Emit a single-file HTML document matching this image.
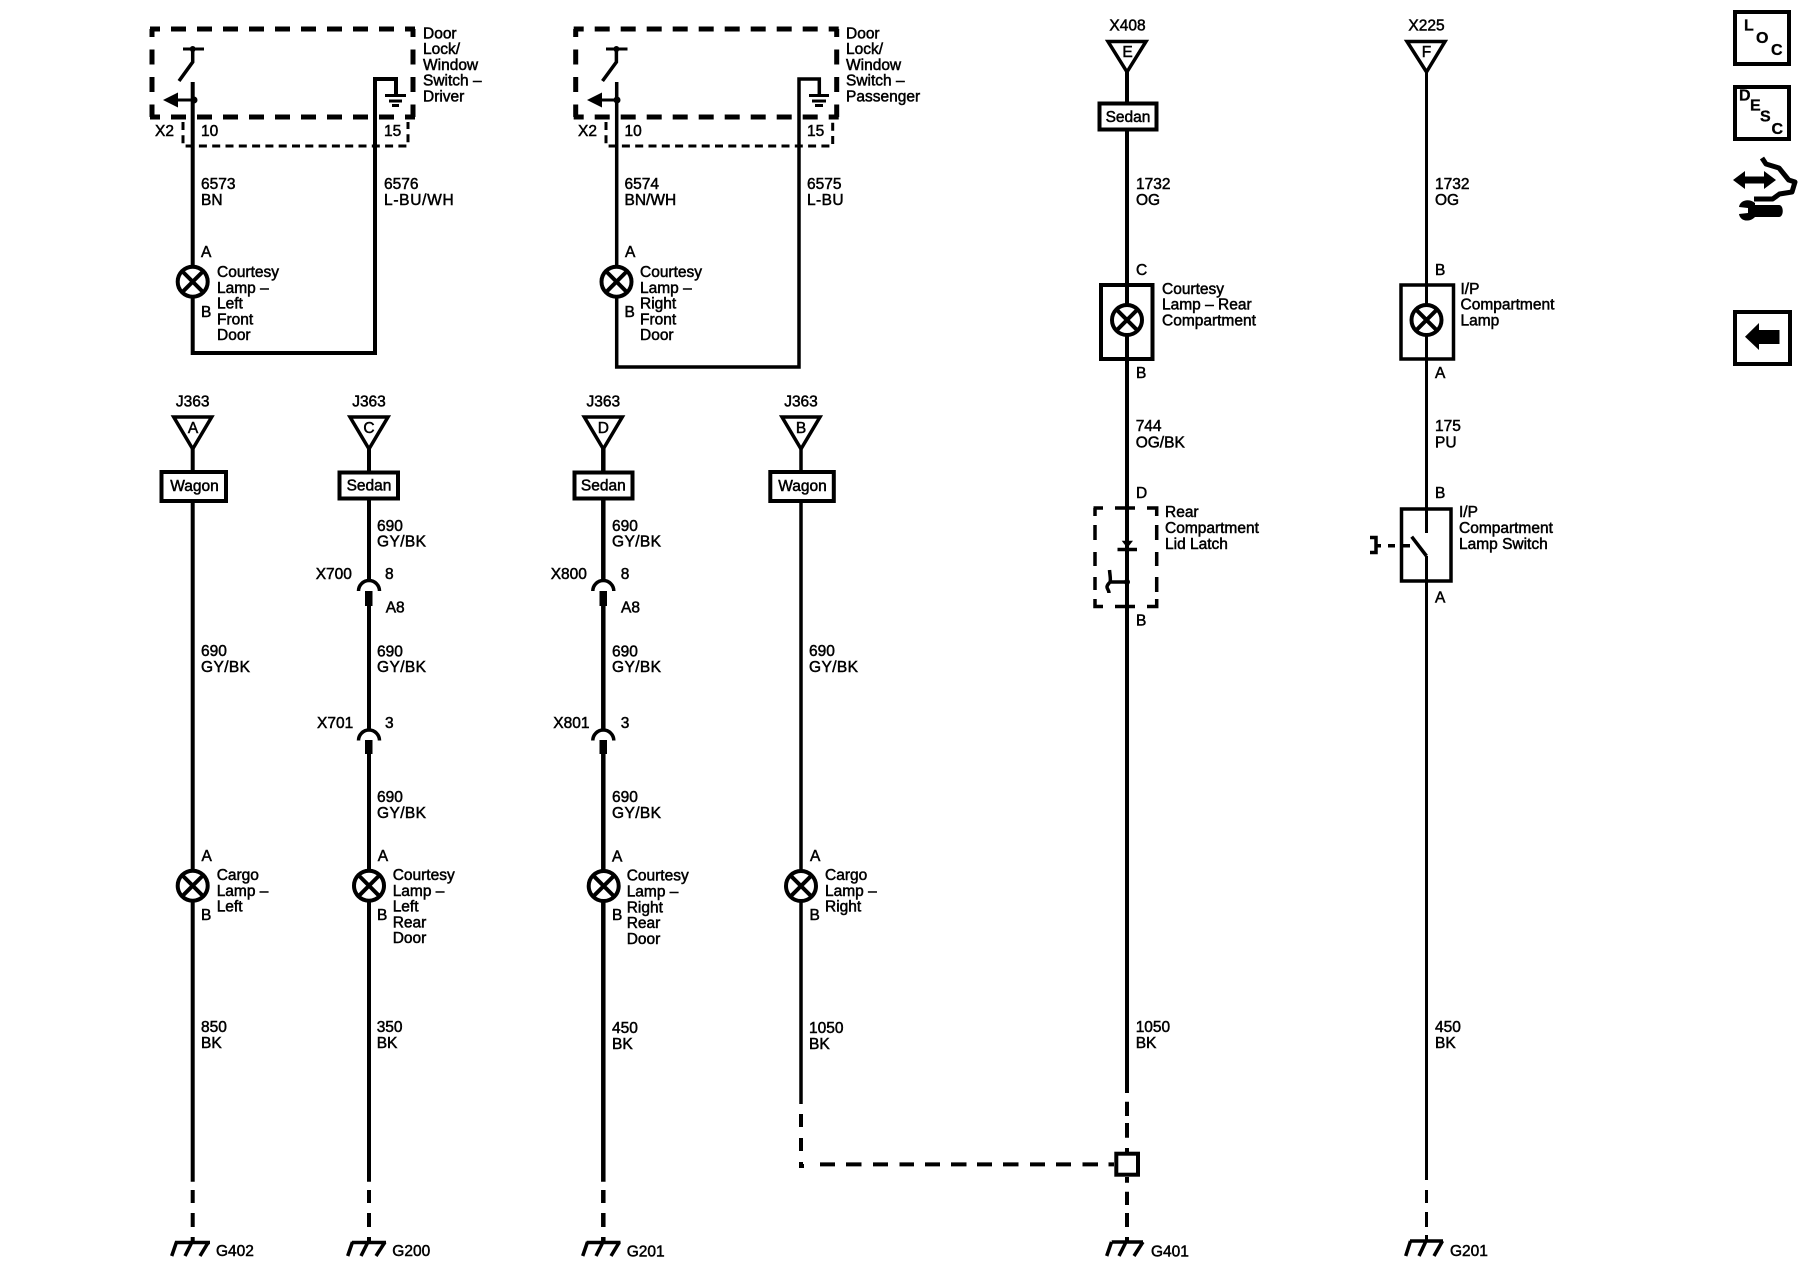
<!DOCTYPE html>
<html><head><meta charset="utf-8"><title>Courtesy Lamps Schematic</title>
<style>
html,body{margin:0;padding:0;background:#fff}
svg{display:block}
text{font-family:"Liberation Sans",sans-serif;font-size:15.5px;fill:#000;stroke:#000;stroke-width:.5px}
.m{text-anchor:middle}
.b{font-weight:bold;font-size:16px;stroke-width:.3px}
.c{letter-spacing:.4px}
path,line,rect,circle,polygon,polyline{stroke:#000;fill:none}
.w{stroke-width:4}
.n{stroke-width:3}
.t{stroke-width:4;fill:#fff}
.v{stroke-width:3.5;fill:#fff}
.f{fill:#000;stroke:none}
.l{fill:#fff;stroke-width:4}
.x{stroke-width:3.5}
.g{stroke-width:3.5}
</style></head><body>
<svg xmlns="http://www.w3.org/2000/svg" width="1800" height="1280" viewBox="0 0 1800 1280">
<rect x="0" y="0" width="1800" height="1280" style="fill:#fff;stroke:none"/>

<!-- Group 1 -->
<g>
<path d="M150 29H415M150 117H415" stroke-width="5" stroke-dasharray="15 11" stroke-dashoffset="5"/>
<path d="M152 29V117M413 29V117" stroke-width="5" stroke-dasharray="15 12.5" stroke-dashoffset="7"/>
<path d="M183 122V146H408V122" stroke-width="3" stroke-dasharray="8 5.3"/>
<path class="w" d="M192.7 82V353H375V79H396V95"/>
<path class="n" d="M183 49H204"/>
<path class="x" d="M192.7 49V62L179 81"/>
<circle class="f" cx="192.7" cy="49" r="3"/>
<circle class="f" cx="194" cy="100" r="3.5"/>
<path class="n" d="M175 100H194"/>
<polygon class="f" points="163,100 178,92.5 178,107.5"/>
<path class="n" d="M385 95.5H406M389 101H402M392 105.5H399"/>
<circle class="l" cx="192.7" cy="281.7" r="15"/>
<path class="w" d="M182 271L203.4 292.4M203.4 271L182 292.4"/>
<text x="423" y="38.3">Door<tspan x="423" dy="15.8">Lock/</tspan><tspan x="423" dy="15.8">Window</tspan><tspan x="423" dy="15.8">Switch –</tspan><tspan x="423" dy="15.8">Driver</tspan></text>
<text x="155" y="136">X2</text><text x="201" y="136">10</text><text x="384" y="136">15</text>
<text x="201" y="189">6573</text><text x="201" y="205">BN</text>
<text x="384" y="189">6576</text><text x="384" y="205" style="letter-spacing:.7px">L-BU/WH</text>
<text x="201" y="257">A</text><text x="201" y="317">B</text>
<text x="217" y="277">Courtesy<tspan x="217" dy="15.8">Lamp –</tspan><tspan x="217" dy="15.8">Left</tspan><tspan x="217" dy="15.8">Front</tspan><tspan x="217" dy="15.8">Door</tspan></text>
</g>

<!-- Group 2 -->
<g>
<path d="M573.7 29H838.7M573.7 117H838.7" stroke-width="5" stroke-dasharray="15 11" stroke-dashoffset="5"/>
<path d="M575.7 29V117M836.7 29V117" stroke-width="5" stroke-dasharray="15 12.5" stroke-dashoffset="7"/>
<path d="M606 122V146H832.7V122" stroke-width="3" stroke-dasharray="8 5.3"/>
<path class="x" d="M616.7 82V367H799V79H819.3V95"/>
<path class="n" d="M606 49H627.5"/>
<path class="x" d="M616.4 49V62L602.5 81"/>
<circle class="f" cx="616.4" cy="49" r="3"/>
<circle class="f" cx="617" cy="100" r="3.5"/>
<path class="n" d="M598 100H617"/>
<polygon class="f" points="587,100 602,92.5 602,107.5"/>
<path class="n" d="M809 95.5H829M812 101H826M815 105.5H823"/>
<circle class="l" cx="616.5" cy="281.7" r="15"/>
<path class="w" d="M605.8 271L627.2 292.4M627.2 271L605.8 292.4"/>
<text x="846" y="38.3">Door<tspan x="846" dy="15.8">Lock/</tspan><tspan x="846" dy="15.8">Window</tspan><tspan x="846" dy="15.8">Switch –</tspan><tspan x="846" dy="15.8">Passenger</tspan></text>
<text x="578" y="136">X2</text><text x="624.5" y="136">10</text><text x="807" y="136">15</text>
<text x="624.5" y="189">6574</text><text x="624.5" y="205">BN/WH</text>
<text x="807" y="189">6575</text><text x="807" y="205" class="c">L-BU</text>
<text x="625" y="257">A</text><text x="624.5" y="317">B</text>
<text x="640" y="277">Courtesy<tspan x="640" dy="15.8">Lamp –</tspan><tspan x="640" dy="15.8">Right</tspan><tspan x="640" dy="15.8">Front</tspan><tspan x="640" dy="15.8">Door</tspan></text>
</g>

<!-- Column A -->
<g>
<path class="w" d="M192.7 447V1181.7"/>
<path class="w" d="M192.7 1190V1203M192.7 1213V1227M192.7 1237V1243"/>
<polygon class="v" points="173.7,417 211.7,417 192.7,449"/>
<rect class="t" x="161.5" y="472" width="64.5" height="29"/>
<text class="m" x="192.7" y="406.5">J363</text><text class="m" x="193" y="433">A</text><text class="m" x="194.5" y="491">Wagon</text>
<text x="201" y="656">690</text><text x="201" y="672" class="c">GY/BK</text>
<circle class="l" cx="192.7" cy="885.7" r="15"/>
<path class="w" d="M182 875L203.4 896.4M203.4 875L182 896.4"/>
<text x="201.5" y="861">A</text><text x="201" y="920">B</text>
<text x="216.7" y="880">Cargo<tspan x="216.7" dy="15.8">Lamp –</tspan><tspan x="216.7" dy="15.8">Left</tspan></text>
<text x="201" y="1032">850</text><text x="201" y="1048">BK</text>
<path class="g" d="M175 1242.5H210M176.5 1242L171.7 1256M192 1242L185 1256M208.5 1242L200 1256"/>
<text x="216" y="1256">G402</text>
</g>

<!-- Column C -->
<g>
<path class="w" d="M369 447V580M369 605V729M369 752V1181.7"/>
<path class="w" d="M369 1190V1203M369 1213V1227M369 1237V1243"/>
<polygon class="v" points="350,417 388,417 369,449"/>
<rect class="t" x="339.5" y="472.5" width="58.5" height="26"/>
<text class="m" x="369" y="406.5">J363</text><text class="m" x="369" y="433">C</text><text class="m" x="369" y="490.7">Sedan</text>
<text x="377" y="531">690</text><text x="377" y="546.7" class="c">GY/BK</text>
<text x="315.7" y="579">X700</text><text x="385" y="579">8</text><text x="385.7" y="612.7">A8</text>
<path class="x" d="M358.5 591A10.5 10.5 0 0 1 379.5 591"/>
<rect class="f" x="365" y="591" width="7.5" height="15"/>
<text x="377" y="656.7">690</text><text x="377" y="672" class="c">GY/BK</text>
<text x="317" y="728">X701</text><text x="385" y="728">3</text>
<path class="x" d="M358.5 740.5A10.5 10.5 0 0 1 379.5 740.5"/>
<rect class="f" x="365" y="740" width="7.5" height="14"/>
<text x="377" y="802">690</text><text x="377" y="818" class="c">GY/BK</text>
<circle class="l" cx="369" cy="885.7" r="15"/>
<path class="w" d="M358.3 875L379.7 896.4M379.7 875L358.3 896.4"/>
<text x="377.7" y="861">A</text><text x="377" y="920">B</text>
<text x="392.7" y="880">Courtesy<tspan x="392.7" dy="15.8">Lamp –</tspan><tspan x="392.7" dy="15.8">Left</tspan><tspan x="392.7" dy="15.8">Rear</tspan><tspan x="392.7" dy="15.8">Door</tspan></text>
<text x="376.7" y="1032">350</text><text x="376.7" y="1048">BK</text>
<path class="g" d="M352 1242.5H386M352.5 1242L347.7 1256M368 1242L361 1256M385 1242L376 1256"/>
<text x="392.3" y="1256">G200</text>
</g>

<!-- Column D -->
<g>
<path stroke-width="4.5" d="M603.3 447V580M603.3 605V729M603.3 752V1181.7"/>
<path stroke-width="4.5" d="M603.3 1190V1203M603.3 1213V1227M603.3 1237V1243"/>
<polygon class="v" points="584.3,417 622.3,417 603.3,449"/>
<rect class="t" x="574.5" y="472.5" width="58" height="26"/>
<text class="m" x="603.3" y="406.5">J363</text><text class="m" x="603.3" y="433">D</text><text class="m" x="603.3" y="490.7">Sedan</text>
<text x="612" y="531">690</text><text x="612" y="546.7" class="c">GY/BK</text>
<text x="550.7" y="579">X800</text><text x="620.7" y="579">8</text><text x="621" y="612.7">A8</text>
<path class="x" d="M592.8 591A10.5 10.5 0 0 1 613.8 591"/>
<rect class="f" x="599.5" y="591" width="7.5" height="15"/>
<text x="612" y="656.7">690</text><text x="612" y="672" class="c">GY/BK</text>
<text x="553.3" y="728">X801</text><text x="620.7" y="728">3</text>
<path class="x" d="M592.8 740.5A10.5 10.5 0 0 1 613.8 740.5"/>
<rect class="f" x="599.5" y="740" width="7.5" height="14"/>
<text x="612" y="802">690</text><text x="612" y="818" class="c">GY/BK</text>
<circle class="l" cx="603.7" cy="886" r="15"/>
<path class="w" d="M593 875.3L614.4 896.7M614.4 875.3L593 896.7"/>
<text x="612" y="861.7">A</text><text x="612" y="920">B</text>
<text x="626.7" y="880.7">Courtesy<tspan x="626.7" dy="15.8">Lamp –</tspan><tspan x="626.7" dy="15.8">Right</tspan><tspan x="626.7" dy="15.8">Rear</tspan><tspan x="626.7" dy="15.8">Door</tspan></text>
<text x="612" y="1033">450</text><text x="612" y="1049">BK</text>
<path class="g" d="M586.7 1242.5H620.5M587.5 1242L582.7 1256M603 1242L596 1256M619.5 1242L611 1256"/>
<text x="626.7" y="1256.5">G201</text>
</g>

<!-- Column B -->
<g>
<path class="x" d="M801 447V1104"/>
<path class="w" d="M801 1114V1127M801 1138V1151M801 1162V1166H804"/>
<path class="w" d="M820 1164.4H835M846 1164.4H861.5M873 1164.4H888M899.5 1164.4H914M925 1164.4H940M951 1164.4H966.5M977 1164.4H992M1003 1164.4H1018.5M1030 1164.4H1045M1056 1164.4H1071M1082.5 1164.4H1098M1108.5 1164.4H1114"/>
<polygon class="v" points="782,417 820,417 801,449"/>
<rect class="t" x="770.3" y="472" width="63.5" height="29"/>
<text class="m" x="801" y="406.5">J363</text><text class="m" x="801" y="433">B</text><text class="m" x="802.5" y="491">Wagon</text>
<text x="809" y="656">690</text><text x="809" y="672" class="c">GY/BK</text>
<circle class="l" cx="801" cy="886" r="15"/>
<path class="w" d="M790.3 875.3L811.7 896.7M811.7 875.3L790.3 896.7"/>
<text x="810" y="861">A</text><text x="809.5" y="920">B</text>
<text x="825" y="880">Cargo<tspan x="825" dy="15.8">Lamp –</tspan><tspan x="825" dy="15.8">Right</tspan></text>
<text x="809" y="1033">1050</text><text x="809" y="1049">BK</text>
</g>

<!-- Column 5 -->
<g>
<path class="w" d="M1127 70V1093"/>
<path class="w" d="M1127 1101.7V1116M1127 1123V1137.7M1127 1148V1152M1127 1177V1182.7M1127 1191.7V1205M1127 1213V1227M1127 1237V1243"/>
<polygon class="v" points="1108,41.5 1146,41.5 1127,72"/>
<rect class="t" x="1099.5" y="103.5" width="57" height="26"/>
<text class="m" x="1127.5" y="30.7">X408</text><text class="m" x="1127.5" y="57">E</text><text class="m" x="1128" y="122">Sedan</text>
<text x="1136" y="189">1732</text><text x="1136" y="205">OG</text>
<text x="1136" y="275">C</text>
<rect class="t" x="1101" y="285" width="51.5" height="74" style="fill:none"/>
<circle class="l" cx="1127" cy="320" r="15"/>
<path class="w" d="M1116.3 309.3L1137.7 330.7M1137.7 309.3L1116.3 330.7"/>
<text x="1136" y="378">B</text>
<text x="1162" y="294">Courtesy<tspan x="1162" dy="15.7">Lamp – Rear</tspan><tspan x="1162" dy="15.7">Compartment</tspan></text>
<text x="1135.7" y="431">744</text><text x="1135.7" y="447.5">OG/BK</text>
<text x="1136" y="498">D</text>
<path class="x" d="M1093.5 508H1103M1115 508H1135M1147 508H1156.7V516M1156.7 525V540M1156.7 552V566M1156.7 577V592M1156.7 599V606.5H1147M1135 606.5H1115M1103 606.5H1095V599M1095 590V577M1095 566V552M1095 540V525M1095 516V508"/>
<polygon class="f" points="1121.7,540.7 1133,540.7 1127.3,548"/>
<path class="x" d="M1117.5 549.5H1137"/>
<path class="x" d="M1110 582H1127M1109.5 570C1110 576 1111 580 1110 582C1108.5 584 1107 585 1107 587C1107 589 1109 590 1109 593"/>
<circle class="f" cx="1127" cy="582" r="3"/>
<text x="1165" y="517">Rear<tspan x="1165" dy="16">Compartment</tspan><tspan x="1165" dy="16">Lid Latch</tspan></text>
<text x="1136" y="625.7">B</text>
<rect class="t" x="1116.3" y="1153.7" width="21.7" height="21" />
<text x="1135.7" y="1032">1050</text><text x="1135.7" y="1048">BK</text>
<path class="g" d="M1111.7 1242H1143M1111.5 1242L1106.7 1256M1126 1242L1119 1256M1143 1242L1134 1256"/>
<text x="1151" y="1256.7">G401</text>
</g>

<!-- Column 6 -->
<g>
<path class="n" d="M1426.5 70V533M1426.5 556V1180"/>
<path class="n" d="M1426.5 1190V1203M1426.5 1212V1227M1426.5 1235V1241"/>
<polygon class="v" points="1407,41.5 1445,41.5 1426.5,72"/>
<text class="m" x="1426.5" y="30.7">X225</text><text class="m" x="1426.5" y="57">F</text>
<text x="1435" y="189">1732</text><text x="1435" y="205">OG</text>
<text x="1435" y="275">B</text>
<rect class="x" x="1401" y="285" width="52.5" height="74"/>
<circle class="l" cx="1426.5" cy="320" r="15"/>
<path class="w" d="M1415.8 309.3L1437.2 330.7M1437.2 309.3L1415.8 330.7"/>
<text x="1435" y="378">A</text>
<text x="1460.5" y="294">I/P<tspan x="1460.5" dy="15.7">Compartment</tspan><tspan x="1460.5" dy="15.7">Lamp</tspan></text>
<text x="1435" y="431">175</text><text x="1435" y="447.5">PU</text>
<text x="1435" y="498">B</text>
<rect class="x" x="1401.5" y="509" width="49.5" height="72"/>
<path class="x" d="M1411.7 536.7L1426.5 556"/>
<path class="x" d="M1388 545.7H1395M1400 545.7H1410"/>
<path class="x" d="M1370 537.5H1376V552.5H1370M1376 545.7H1381"/>
<text x="1459" y="517">I/P<tspan x="1459" dy="16">Compartment</tspan><tspan x="1459" dy="16">Lamp Switch</tspan></text>
<text x="1435" y="602.3">A</text>
<text x="1435" y="1032">450</text><text x="1435" y="1048">BK</text>
<path class="g" d="M1410 1241H1443M1410.5 1241L1405.7 1256M1426 1241L1419 1256M1442.5 1241L1434 1256"/>
<text x="1450" y="1256">G201</text>
</g>

<!-- Right icons -->
<g>
<rect class="w" x="1735" y="12" width="54" height="52"/>
<text class="b" x="1744" y="30.7">L</text><text class="b" x="1756" y="43">O</text><text class="b" x="1771" y="55">C</text>
<rect class="w" x="1735" y="87" width="54" height="52"/>
<text class="b" x="1739" y="100.7">D</text><text class="b" x="1750" y="110.7">E</text><text class="b" x="1760" y="121.7">S</text><text class="b" x="1771.5" y="134">C</text>
<path stroke-width="5" d="M1762 158L1766 164L1779 168L1788.7 180L1795 182L1792 192L1779.5 194L1772.6 199H1754" stroke-linejoin="round"/>
<polygon class="f" points="1733,180 1745,171 1745,176.5 1764,176.5 1764,171 1776,180 1764,189 1764,183.5 1745,183.5 1745,189"/>
<path class="f" d="M1755 203C1749 198 1740 200 1739 207L1748 208V213L1739 214C1740 221 1749 223 1755 217H1779C1784 217 1784 205 1779 205H1755Z"/>
<rect class="w" x="1735" y="312" width="55" height="52"/>
<polygon class="f" points="1745,336.7 1759,323 1759,330 1779.5,330 1779.5,344 1759,344 1759,350"/>
</g>
</svg>
</body></html>
